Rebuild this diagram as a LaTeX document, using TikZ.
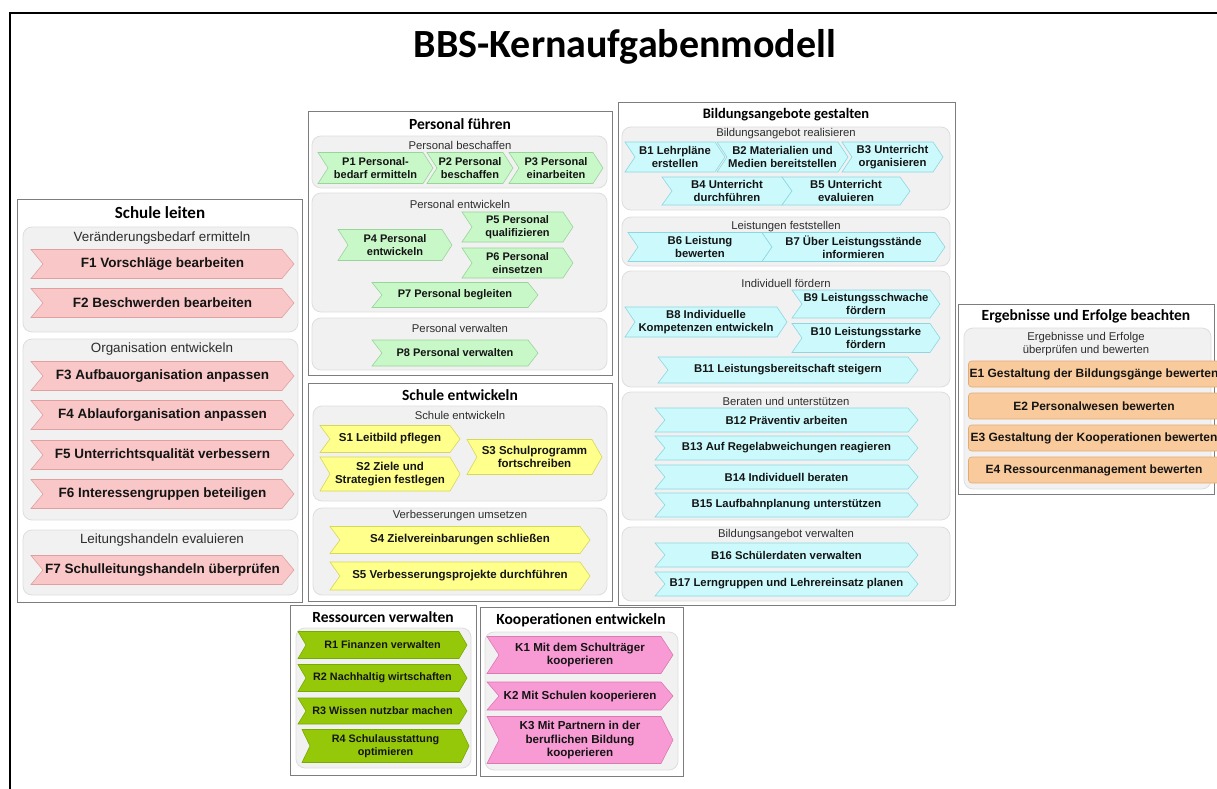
\documentclass[tikz,border=0pt]{standalone}
\usepackage{fontspec}
\setmainfont{Liberation Sans}
\newfontfamily\carlito{Carlito}
\definecolor{fpink}{RGB}{249,199,199}
\definecolor{fpinkd}{RGB}{225,160,160}
\definecolor{pgreen}{RGB}{200,247,200}
\definecolor{pgreend}{RGB}{155,212,155}
\definecolor{syellow}{RGB}{255,255,140}
\definecolor{syellowd}{RGB}{215,215,90}
\definecolor{bcyan}{RGB}{204,250,252}
\definecolor{bcyand}{RGB}{140,215,225}
\definecolor{eorange}{RGB}{249,203,156}
\definecolor{eoranged}{RGB}{225,170,120}
\definecolor{rgreen}{RGB}{150,200,10}
\definecolor{rgreend}{RGB}{120,170,0}
\definecolor{kpink}{RGB}{248,155,212}
\definecolor{kpinkd}{RGB}{220,120,180}
\definecolor{subfill}{RGB}{241,241,241}
\definecolor{subline}{RGB}{222,222,222}
\definecolor{secgray}{RGB}{125,125,125}
\definecolor{labelgray}{RGB}{45,45,45}
\definecolor{textblack}{RGB}{20,20,20}
% [depth]{name}{L}{R}{yc}{h}{style}{text}
\newcommand\chev[8][10]{%
  \path[#7] (#3,{#5-#6/2}) -- ({#4-#1},{#5-#6/2}) -- (#4,#5) -- ({#4-#1},{#5+#6/2}) -- (#3,{#5+#6/2}) -- ({#3+#1},#5) -- cycle;
  \node[ctext] (#2) at ({(#3+#4)/2},#5) {#8};
}
\begin{document}
\begin{tikzpicture}[x=1pt,y=-1pt,
  secbox/.style={draw=secgray, line width=1, fill=white},
  subbox/.style={draw=subline, fill=subfill, rounded corners=9, line width=0.8},
  sublabel/.style={font=\fontsize{11.3}{13}\selectfont, text=labelgray, align=center},
  sectitle/.style={font=\carlito\bfseries\fontsize{15.5}{18}\selectfont, text=black},
  ctext/.style={font=\bfseries\fontsize{11.3}{12.6}\selectfont, align=center, text=textblack, inner sep=0},
  fchev/.style={fill=fpink, draw=fpinkd, line width=0.6},
  pchev/.style={fill=pgreen, draw=pgreend, line width=0.6},
  schev/.style={fill=syellow, draw=syellowd, line width=0.6},
  bchev/.style={fill=bcyan, draw=bcyand, line width=0.6},
  rchev/.style={fill=rgreen, draw=rgreend, line width=0.6},
  kchev/.style={fill=kpink, draw=kpinkd, line width=0.6},
  ebox/.style={fill=eorange, draw=eoranged, line width=0.6, rounded corners=3, minimum width=251, minimum height=26, inner sep=0, font=\bfseries\fontsize{12}{14}\selectfont, text=textblack}
]
\useasboundingbox (0,0) rectangle (1217,789);
\fill[white] (0,0) rectangle (1217,789);
\draw[line width=2.2] (1230,13) -- (10,13) -- (10,800);

\node[font=\carlito\bfseries\fontsize{40}{48}\selectfont] (title) at (625,47) {BBS-Kernaufgabenmodell};

%% Schule leiten
\draw[secbox] (17,199) rectangle (302,602);
\node[sectitle, font=\carlito\bfseries\fontsize{17}{20}\selectfont] (slT) at (160,213) {Schule leiten};
\draw[subbox] (23,227) rectangle (298,332);
\draw[subbox] (23,339) rectangle (298,520);
\draw[subbox] (23,530) rectangle (298,595);
\begin{scope}[sublabel/.append style={font=\fontsize{13.4}{15}\selectfont},
              ctext/.append style={font=\bfseries\fontsize{13.5}{15}\selectfont}]
\node[sublabel] (slA) at (162,238) {Veränderungsbedarf ermitteln};
\node[sublabel] (slB) at (162,349) {Organisation entwickeln};
\node[sublabel] (slC) at (162,540) {Leitungshandeln evaluieren};
\chev[12]{f1}{31}{294}{264}{29}{fchev}{F1 Vorschläge bearbeiten}
\chev[12]{f2}{31}{294}{303}{29}{fchev}{F2 Beschwerden bearbeiten}
\chev[12]{f3}{31}{294}{376}{29}{fchev}{F3 Aufbauorganisation anpassen}
\chev[12]{f4}{31}{294}{415}{29}{fchev}{F4 Ablauforganisation anpassen}
\chev[12]{f5}{31}{294}{455}{29}{fchev}{F5 Unterrichtsqualität verbessern}
\chev[12]{f6}{31}{294}{494}{29}{fchev}{F6 Interessengruppen beteiligen}
\chev[12]{f7}{31}{294}{570}{29}{fchev}{F7 Schulleitungshandeln überprüfen}
\end{scope}

%% Personal fuehren
\draw[secbox] (308,112) rectangle (612,375);
\node[sectitle] (pfT) at (460,124) {Personal führen};
\draw[subbox] (312,136) rectangle (607,188);
\draw[subbox] (312,193) rectangle (607,312);
\draw[subbox] (312,318) rectangle (607,370);
\node[sublabel] (pfA) at (460,145) {Personal beschaffen};
\node[sublabel] (pfB) at (460,204) {Personal entwickeln};
\node[sublabel] (pfC) at (460,328) {Personal verwalten};
\begin{scope}[ctext/.append style={font=\bfseries\fontsize{11}{12.4}\selectfont}]
\chev{p1}{318}{433}{168}{31}{pchev}{P1 Personal-\\bedarf ermitteln}
\chev{p2}{427}{513}{168}{31}{pchev}{P2 Personal\\beschaffen}
\chev{p3}{509}{603}{168}{31}{pchev}{P3 Personal\\einarbeiten}
\chev{p4}{338}{452}{245}{31}{pchev}{P4 Personal\\entwickeln}
\chev{p5}{462}{573}{227}{30}{pchev}{P5 Personal\\qualifizieren}
\chev{p6}{462}{573}{263}{30}{pchev}{P6 Personal\\einsetzen}
\chev{p7}{372}{538}{295}{25}{pchev}{P7 Personal begleiten}
\chev{p8}{372}{538}{353}{26}{pchev}{P8 Personal verwalten}
\end{scope}

%% Schule entwickeln
\draw[secbox] (308,383) rectangle (612,601);
\node[sectitle] (seT) at (460,395) {Schule entwickeln};
\draw[subbox] (313,406) rectangle (607,501);
\draw[subbox] (313,508) rectangle (607,595);
\node[sublabel] (seA) at (460,415) {Schule entwickeln};
\node[sublabel] (seB) at (460,516) {Verbesserungen umsetzen};
\begin{scope}[ctext/.append style={font=\bfseries\fontsize{11.5}{13}\selectfont}]
\chev{s1}{320}{460}{439}{27}{schev}{S1 Leitbild pflegen}
\chev{s2}{320}{460}{474}{34}{schev}{S2 Ziele und\\Strategien festlegen}
\chev{s3}{467}{602}{457}{35}{schev}{S3 Schulprogramm\\fortschreiben}
\chev{s4}{330}{590}{540}{27}{schev}{S4 Zielvereinbarungen schließen}
\chev{s5}{330}{590}{576}{28}{schev}{S5 Verbesserungsprojekte durchführen}
\end{scope}

%% Bildungsangebote gestalten
\draw[secbox] (618,103) rectangle (955,605);
\node[sectitle, font=\carlito\bfseries\fontsize{14.5}{17}\selectfont] (bgT) at (786,115) {Bildungsangebote gestalten};
\draw[subbox] (622,127) rectangle (950,210);
\draw[subbox] (622,217) rectangle (950,266);
\draw[subbox] (622,271) rectangle (950,387);
\draw[subbox] (622,392) rectangle (950,520);
\draw[subbox] (622,527) rectangle (950,601);
\node[sublabel] (bgA) at (786,134) {Bildungsangebot realisieren};
\node[sublabel] (bgB) at (786,227) {Leistungen feststellen};
\node[sublabel] (bgC) at (786,283) {Individuell fördern};
\node[sublabel] (bgD) at (786,401) {Beraten und unterstützen};
\node[sublabel] (bgE) at (786,535) {Bildungsangebot verwalten};
\chev{b1}{625}{725}{157}{30}{bchev}{B1 Lehrpläne\\erstellen}
\chev{b2}{717}{848}{157}{30}{bchev}{B2 Materialien und\\Medien bereitstellen}
\chev{b3}{842}{943}{157}{30}{bchev}{B3 Unterricht\\organisieren}
\chev{b4}{662}{792}{191}{28}{bchev}{B4 Unterricht\\durchführen}
\chev{b5}{782}{910}{191}{28}{bchev}{B5 Unterricht\\evaluieren}
\chev{b6}{628}{772}{247}{29}{bchev}{B6 Leistung\\bewerten}
\chev{b7}{762}{945}{247}{29}{bchev}{B7 Über Leistungsstände\\informieren}
\chev{b8}{625}{787}{322}{30}{bchev}{B8 Individuelle\\Kompetenzen entwickeln}
\chev{b9}{792}{940}{304}{28}{bchev}{B9 Leistungsschwache\\fördern}
\chev{b10}{792}{940}{338}{29}{bchev}{B10 Leistungsstarke\\fördern}
\chev{b11}{658}{918}{370}{26}{bchev}{B11 Leistungsbereitschaft steigern}
\chev{b12}{655}{918}{420}{24}{bchev}{B12 Präventiv arbeiten}
\chev{b13}{655}{918}{448}{24}{bchev}{B13 Auf Regelabweichungen reagieren}
\chev{b14}{655}{918}{477}{24}{bchev}{B14 Individuell beraten}
\chev{b15}{655}{918}{505}{24}{bchev}{B15 Laufbahnplanung unterstützen}
\chev{b16}{655}{918}{555}{24}{bchev}{B16 Schülerdaten verwalten}
\chev{b17}{655}{918}{584}{24}{bchev}{B17 Lerngruppen und Lehrereinsatz planen}

%% Ergebnisse und Erfolge
\draw[secbox] (958,304) rectangle (1214,494);
\node[sectitle] (eeT) at (1086,316) {Ergebnisse und Erfolge beachten};
\draw[subbox] (964,328) rectangle (1211,489);
\node[sublabel] (eeA) at (1086,344) {Ergebnisse und Erfolge\\überprüfen und bewerten};
\node[ebox] (e1) at (1094,374) {E1 Gestaltung der Bildungsgänge bewerten};
\node[ebox] (e2) at (1094,406) {E2 Personalwesen bewerten};
\node[ebox] (e3) at (1094,438) {E3 Gestaltung der Kooperationen bewerten};
\node[ebox] (e4) at (1094,470) {E4 Ressourcenmanagement bewerten};

%% Ressourcen verwalten
\draw[secbox] (290,605) rectangle (476,775);
\node[sectitle] (rvT) at (383,617) {Ressourcen verwalten};
\draw[subbox] (296,628) rectangle (471,768);
\begin{scope}[ctext/.append style={font=\bfseries\fontsize{10.8}{12.4}\selectfont}]
\chev[8]{r1}{298}{467}{645}{27}{rchev}{R1 Finanzen verwalten}
\chev[8]{r2}{298}{467}{678}{27}{rchev}{R2 Nachhaltig wirtschaften}
\chev[8]{r3}{298}{467}{711}{26}{rchev}{R3 Wissen nutzbar machen}
\chev[8]{r4}{302}{469}{746}{33}{rchev}{R4 Schulausstattung\\optimieren}
\end{scope}

%% Kooperationen entwickeln
\draw[secbox] (480,607) rectangle (683,776);
\node[sectitle] (keT) at (581,620) {Kooperationen entwickeln};
\draw[subbox] (485,632) rectangle (678,770);
\begin{scope}[ctext/.append style={font=\bfseries\fontsize{11.6}{13.3}\selectfont}]
\chev[12]{k1}{487}{673}{655}{37}{kchev}{K1 Mit dem Schulträger\\kooperieren}
\chev[12]{k2}{487}{673}{696}{28}{kchev}{K2 Mit Schulen kooperieren}
\chev[12]{k3}{487}{673}{740}{47}{kchev}{K3 Mit Partnern in der\\beruflichen Bildung\\kooperieren}
\end{scope}
\end{tikzpicture}
\end{document}
